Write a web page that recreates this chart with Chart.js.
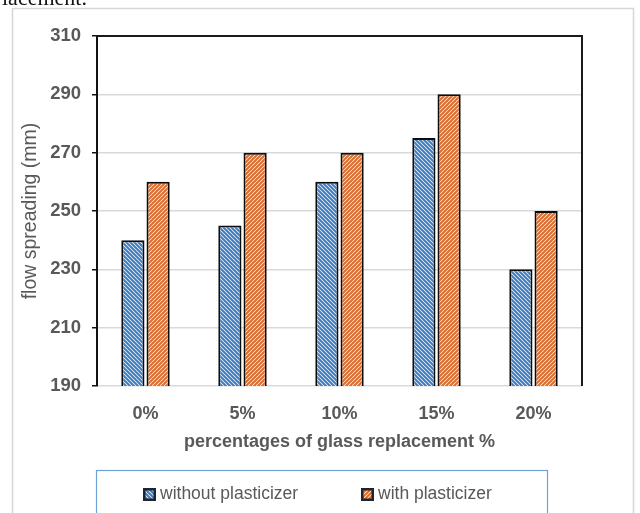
<!DOCTYPE html>
<html>
<head>
<meta charset="utf-8">
<script src="https://cdn.jsdelivr.net/npm/chart.js@4.4.1/dist/chart.umd.min.js"></script>
<style>
  html, body { margin: 0; padding: 0; background: #ffffff; }
  #wrap { width: 640px; height: 513px; position: relative; }
</style>
</head>
<body>
<div id="wrap"><canvas id="c" width="640" height="513"></canvas></div>
<script>
// Flow spreading values (mm) by glass replacement percentage
const categories = ['0%', '5%', '10%', '15%', '20%'];
const withoutPlasticizer = [240, 245, 260, 275, 230];
const withPlasticizer = [260, 270, 270, 290, 250];
const seriesLabels = ['without plasticizer', 'with plasticizer'];
const yMin = 190, yMax = 310, yStep = 20;

// Diagonal hatch fill: dir 1 = "\" lines, dir -1 = "/" lines
function hatch(fg, bg, dir) {
  const s = 4;
  const c = document.createElement('canvas');
  c.width = s; c.height = s;
  const g = c.getContext('2d');
  g.fillStyle = bg;
  g.fillRect(0, 0, s, s);
  g.strokeStyle = fg;
  g.lineWidth = 2;
  g.beginPath();
  for (let k = -3; k <= 3; k++) {
    if (dir > 0) {
      g.moveTo(k * s - s, -s); g.lineTo(k * s + 2 * s, 2 * s);
    } else {
      g.moveTo(k * s + s, -s); g.lineTo(k * s - 2 * s, 2 * s);
    }
  }
  g.stroke();
  return g.createPattern(c, 'repeat');
}

const ctx0 = document.getElementById('c').getContext('2d');
const bluePattern = hatch('#3e7cc2', '#f4f8fc', 1);
const orangePattern = hatch('#dc6b2c', '#fdf6f0', -1);
const FONT = '"Liberation Sans", Arial, sans-serif';

const decor = {
  id: 'decor',
  beforeDraw(chart) {
    const ctx = chart.ctx;
    ctx.save();
    ctx.fillStyle = '#ffffff';
    ctx.fillRect(0, 0, chart.width, chart.height);
    // outer frame
    ctx.strokeStyle = '#d6d6d6';
    ctx.lineWidth = 1.5;
    ctx.strokeRect(12.5, 8.5, 621, 520);
    // caption fragment above the frame
    ctx.fillStyle = '#111111';
    ctx.font = '22px "Liberation Serif", serif';
    ctx.textBaseline = 'alphabetic';
    ctx.textAlign = 'left';
    ctx.fillText('lacement.', 2, 5);
    ctx.restore();
  },
  afterDraw(chart) {
    const ctx = chart.ctx;
    const a = chart.chartArea;
    ctx.save();
    // plot border: top and right
    ctx.strokeStyle = '#1a1a1a';
    ctx.lineWidth = 2;
    ctx.beginPath();
    ctx.moveTo(a.left, a.top);
    ctx.lineTo(a.right, a.top);
    ctx.lineTo(a.right, a.bottom);
    ctx.stroke();

    // legend box
    ctx.strokeStyle = '#6fa3d8';
    ctx.lineWidth = 1.2;
    ctx.strokeRect(96.5, 470.5, 451, 60);

    const items = [
      { x: 143, tx: 160, ds: chart.data.datasets[0] },
      { x: 361, tx: 378, ds: chart.data.datasets[1] }
    ];
    ctx.font = '17.5px ' + FONT;
    ctx.textBaseline = 'middle';
    ctx.textAlign = 'left';
    items.forEach(it => {
      ctx.fillStyle = it.ds.backgroundColor;
      ctx.fillRect(it.x, 488, 13, 13);
      ctx.strokeStyle = '#1c2530';
      ctx.lineWidth = 2.5;
      ctx.strokeRect(it.x + 1.25, 489.25, 10.5, 10.5);
      ctx.fillStyle = '#595959';
      ctx.fillText(it.ds.label, it.tx, 494);
    });
    ctx.restore();
  }
};

new Chart(ctx0, {
  type: 'bar',
  data: {
    labels: categories,
    datasets: [
      {
        label: seriesLabels[0],
        data: withoutPlasticizer,
        backgroundColor: bluePattern,
        borderColor: '#0d0d0d',
        borderWidth: 2,
        borderSkipped: false,
        categoryPercentage: 0.52,
        barPercentage: 0.92
      },
      {
        label: seriesLabels[1],
        data: withPlasticizer,
        backgroundColor: orangePattern,
        borderColor: '#0d0d0d',
        borderWidth: 2,
        borderSkipped: false,
        categoryPercentage: 0.52,
        barPercentage: 0.92
      }
    ]
  },
  options: {
    responsive: false,
    animation: false,
    layout: { padding: { left: 0, top: 36, right: 58, bottom: 0 } },
    plugins: {
      legend: { display: false },
      tooltip: { enabled: false }
    },
    scales: {
      x: {
        grid: { display: false, drawTicks: false },
        border: { display: false },
        ticks: {
          color: '#595959',
          padding: 17,
          font: { family: FONT, size: 18, weight: 'bold' }
        },
        title: {
          display: true,
          text: 'percentages of glass replacement %',
          color: '#595959',
          font: { family: FONT, size: 18, weight: 'bold' },
          padding: { top: 0, bottom: 60 }
        },
        afterFit(scale) { scale.height = 127; }
      },
      y: {
        min: yMin,
        max: yMax,
        ticks: {
          stepSize: yStep,
          color: '#595959',
          padding: 11,
          font: { family: FONT, size: 18.5, weight: 'bold' }
        },
        grid: {
          color: '#d9d9d9',
          lineWidth: 1.5,
          tickColor: '#111111',
          tickLength: 5
        },
        border: { color: '#111111', width: 2 },
        title: {
          display: true,
          text: 'flow spreading (mm)',
          color: '#595959',
          font: { family: FONT, size: 19.5, weight: 'normal' },
          padding: { top: 19, bottom: 0 }
        },
        afterFit(scale) { scale.width = 97; }
      }
    }
  },
  plugins: [decor]
});
</script>
</body>
</html>
